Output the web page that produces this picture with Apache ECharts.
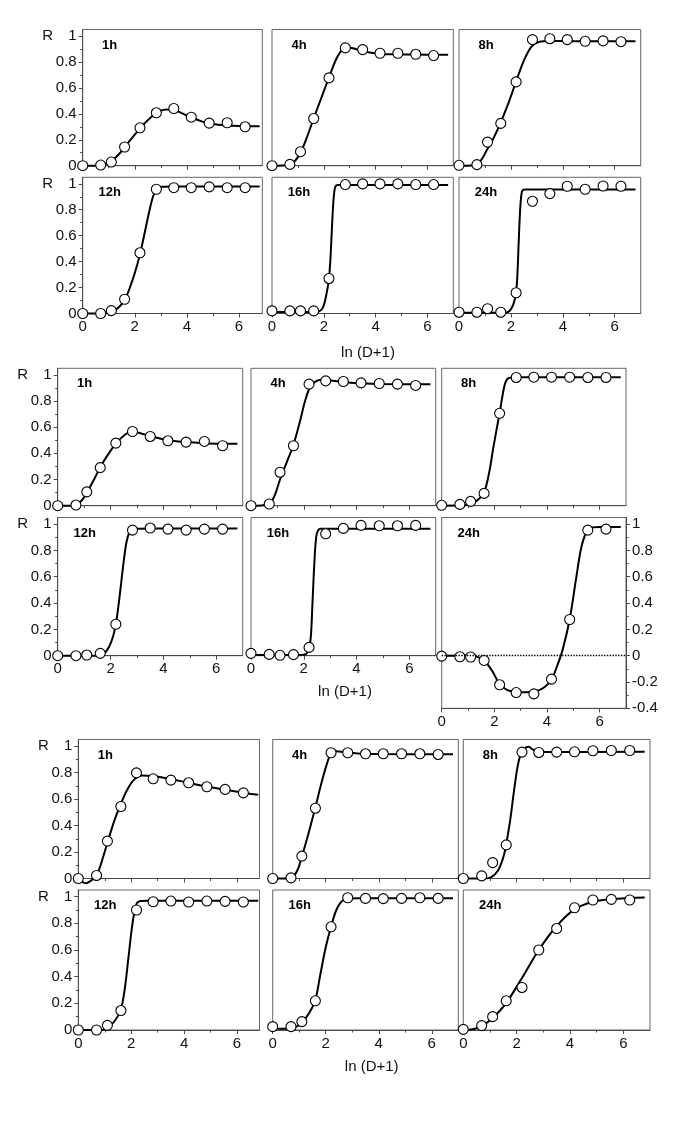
<!DOCTYPE html>
<html><head><meta charset="utf-8">
<script src="https://cdn.jsdelivr.net/npm/echarts@6/dist/echarts.min.js"></script>
<style>html,body{margin:0;padding:0;background:#fff}#c{width:685px;height:1124px}</style>
</head><body><div id="c"></div>
<script>
// x positions: ln(D+1) for D = 0,1,2,4,...,512
const xs = [0, 0.69, 1.10, 1.61, 2.20, 2.83, 3.50, 4.17, 4.86, 5.55, 6.24];
const xTicks = [0, 2, 4, 6];
const xMinor = [1, 3, 5];
const yTicks = [0, 0.2, 0.4, 0.6, 0.8, 1];
const yMinor = [0.1, 0.3, 0.5, 0.7, 0.9];
const yTicks24 = [-0.4, -0.2, 0, 0.2, 0.4, 0.6, 0.8, 1];
const yMinor24 = [-0.3, -0.1, 0.1, 0.3, 0.5, 0.7, 0.9];
const panelNames = ['1h', '4h', '8h', '12h', '16h', '24h'];
const xTitle = 'ln (D+1)';
const yTitle = 'R';

// ---- Group A (top) ----
const A_1h = [0, 0.005, 0.028, 0.144, 0.292, 0.408, 0.441, 0.374, 0.328, 0.331, 0.30];
const A_1h_fit = [[0,0],[0.5,0],[0.8,0.008],[1.1,0.035],[1.4,0.09],[1.7,0.165],[2.0,0.24],[2.3,0.31],[2.6,0.37],[2.9,0.415],[3.2,0.434],[3.5,0.43],[3.8,0.405],[4.2,0.37],[4.6,0.34],[5.0,0.322],[5.5,0.311],[6.0,0.306],[6.8,0.304]];
const A_4h = [0, 0.01, 0.108, 0.364, 0.677, 0.908, 0.895, 0.867, 0.867, 0.859, 0.849];
const A_4h_fit = [[0,0],[0.4,0.002],[0.7,0.012],[0.9,0.04],[1.1,0.1],[1.35,0.22],[1.6,0.36],[1.9,0.52],[2.2,0.68],[2.5,0.83],[2.75,0.9],[3.0,0.91],[3.3,0.895],[3.7,0.875],[4.2,0.862],[5,0.858],[6,0.856],[6.8,0.855]];
const A_8h = [0.003, 0.008, 0.182, 0.326, 0.646, 0.972, 0.979, 0.972, 0.959, 0.962, 0.956];
const A_8h_fit = [[0,0],[0.5,0.002],[0.8,0.03],[1.1,0.13],[1.35,0.22],[1.6,0.33],[1.9,0.48],[2.2,0.65],[2.5,0.81],[2.8,0.92],[3.1,0.955],[3.5,0.962],[4.5,0.96],[6.8,0.96]];
const A_12h = [0, 0, 0.022, 0.11, 0.468, 0.958, 0.97, 0.97, 0.976, 0.97, 0.97];
const A_12h_fit = [[0,0],[0.8,0],[1.1,0.012],[1.4,0.05],[1.65,0.12],[1.9,0.25],[2.1,0.38],[2.25,0.5],[2.4,0.64],[2.55,0.78],[2.7,0.9],[2.85,0.96],[3.05,0.978],[3.5,0.98],[6.8,0.98]];
const A_16h = [0.02, 0.02, 0.02, 0.02, 0.27, 0.994, 0.999, 0.999, 0.999, 0.994, 0.994];
const A_16h_fit = [[0,0.012],[1.5,0.012],[1.8,0.015],[1.95,0.04],[2.05,0.1],[2.15,0.2],[2.2,0.27],[2.25,0.4],[2.3,0.6],[2.35,0.8],[2.4,0.93],[2.45,0.98],[2.55,0.99],[3,0.99],[6.8,0.99]];
const A_24h = [0.01, 0.01, 0.037, 0.01, 0.16, 0.865, 0.924, 0.981, 0.958, 0.983, 0.981];
const A_24h_fit = [[0,0.005],[1.7,0.005],[1.9,0.012],[2.05,0.05],[2.15,0.11],[2.2,0.16],[2.25,0.3],[2.3,0.55],[2.35,0.78],[2.4,0.91],[2.45,0.95],[2.55,0.955],[6.8,0.955]];

// ---- Group B (middle) ----
const B_1h = [0, 0.005, 0.106, 0.291, 0.478, 0.567, 0.529, 0.496, 0.486, 0.491, 0.458];
const B_1h_fit = [[0,0],[0.5,0],[0.75,0.01],[0.95,0.05],[1.1,0.1],[1.35,0.19],[1.6,0.29],[1.9,0.39],[2.2,0.475],[2.5,0.535],[2.8,0.565],[3.1,0.556],[3.5,0.532],[4.17,0.5],[4.86,0.486],[5.55,0.478],[6.24,0.474],[6.8,0.473]];
const B_4h = [0, 0.013, 0.256, 0.458, 0.929, 0.954, 0.949, 0.939, 0.934, 0.929, 0.919];
const B_4h_fit = [[0,0],[0.4,0.002],[0.7,0.015],[0.9,0.08],[1.1,0.2],[1.35,0.33],[1.6,0.46],[1.85,0.64],[2.05,0.8],[2.25,0.91],[2.5,0.955],[2.75,0.962],[3.1,0.955],[3.5,0.946],[4.17,0.935],[5,0.93],[6.8,0.928]];
const B_8h = [0.003, 0.01, 0.033, 0.094, 0.706, 0.98, 0.982, 0.982, 0.982, 0.98, 0.98];
const B_8h_fit = [[0,0],[1.0,0.005],[1.2,0.02],[1.4,0.05],[1.6,0.095],[1.8,0.25],[1.95,0.43],[2.1,0.6],[2.2,0.706],[2.3,0.83],[2.4,0.93],[2.5,0.97],[2.65,0.98],[3,0.982],[6.8,0.982]];
const B_12h = [0, 0, 0.005, 0.018, 0.239, 0.954, 0.97, 0.962, 0.954, 0.962, 0.962];
const B_12h_fit = [[0,0],[1.5,0],[1.75,0.015],[1.95,0.07],[2.1,0.15],[2.2,0.24],[2.3,0.38],[2.4,0.55],[2.5,0.72],[2.6,0.86],[2.7,0.93],[2.83,0.955],[3.0,0.965],[3.5,0.967],[6.8,0.967]];
const B_16h = [0.018, 0.01, 0.003, 0.008, 0.063, 0.926, 0.967, 0.99, 0.987, 0.987, 0.99];
const B_16h_fit = [[0,0.005],[1.9,0.005],[2.1,0.015],[2.2,0.05],[2.27,0.15],[2.33,0.4],[2.4,0.7],[2.47,0.9],[2.55,0.955],[2.65,0.964],[3,0.965],[6.8,0.965]];
const B_24h = [-0.003, -0.008, -0.01, -0.036, -0.221, -0.28, -0.29, -0.178, 0.275, 0.954, 0.962];
const B_24h_fit = [[0,0],[1.0,0],[1.3,-0.005],[1.6,-0.035],[1.9,-0.11],[2.2,-0.215],[2.5,-0.262],[2.83,-0.276],[3.2,-0.278],[3.6,-0.268],[3.9,-0.24],[4.17,-0.18],[4.4,-0.07],[4.6,0.05],[4.86,0.275],[5.1,0.58],[5.3,0.82],[5.5,0.94],[5.7,0.975],[6.0,0.978],[6.8,0.978]];

// ---- Group C (bottom) ----
const C_1h = [0, 0.023, 0.282, 0.544, 0.798, 0.753, 0.743, 0.723, 0.693, 0.673, 0.647];
const C_1h_fit = [[0,0],[0.15,-0.025],[0.3,-0.035],[0.45,-0.02],[0.6,0.005],[0.75,0.05],[0.95,0.17],[1.1,0.27],[1.35,0.43],[1.6,0.56],[1.85,0.67],[2.1,0.745],[2.4,0.778],[2.8,0.775],[3.5,0.752],[4.17,0.722],[4.86,0.695],[5.55,0.67],[6.24,0.648],[6.8,0.633]];
const C_4h = [0, 0.005, 0.169, 0.531, 0.95, 0.95, 0.942, 0.942, 0.942, 0.942, 0.937];
const C_4h_fit = [[0,0],[0.5,0],[0.75,0.01],[0.95,0.07],[1.1,0.165],[1.35,0.34],[1.6,0.53],[1.85,0.73],[2.05,0.87],[2.2,0.945],[2.4,0.962],[2.7,0.955],[3.2,0.945],[4,0.94],[6.8,0.938]];
const C_8h = [0, 0.02, 0.12, 0.254, 0.955, 0.952, 0.955, 0.957, 0.965, 0.967, 0.967];
const C_8h_fit = [[0,0],[0.8,0],[1.05,0.01],[1.3,0.06],[1.5,0.16],[1.6,0.25],[1.75,0.43],[1.9,0.66],[2.05,0.86],[2.2,0.965],[2.35,0.99],[2.45,0.995],[2.6,0.975],[2.8,0.956],[3.2,0.955],[6.8,0.958]];
const C_12h = [0, 0, 0.035, 0.146, 0.9, 0.962, 0.967, 0.96, 0.967, 0.965, 0.96];
const C_12h_fit = [[0,0],[0.9,0],[1.1,0.02],[1.35,0.06],[1.6,0.15],[1.75,0.3],[1.9,0.55],[2.05,0.8],[2.2,0.945],[2.35,0.968],[2.6,0.97],[6.8,0.97]];
const C_16h = [0.025, 0.025, 0.063, 0.219, 0.774, 0.992, 0.987, 0.985, 0.987, 0.992, 0.987];
const C_16h_fit = [[0,0.01],[0.7,0.012],[0.9,0.025],[1.1,0.055],[1.35,0.12],[1.6,0.22],[1.8,0.42],[2.0,0.62],[2.2,0.775],[2.4,0.9],[2.6,0.965],[2.8,0.985],[3.2,0.988],[6.8,0.988]];
const C_24h = [0.005, 0.033, 0.1, 0.219, 0.319, 0.6, 0.761, 0.917, 0.975, 0.98, 0.975];
const C_24h_fit = [[0,0],[0.4,0.008],[0.7,0.03],[1.1,0.09],[1.6,0.2],[2.2,0.39],[2.83,0.6],[3.5,0.78],[4.17,0.905],[4.86,0.962],[5.55,0.982],[6.24,0.99],[6.8,0.993]];

// ---- layout (pixels) ----
const groups = [
  {rows:[{top:29.5,h:136.2},{top:177.3,h:136.2}], cols:[{left:82.7,w:179.6,xmax:6.9},{left:272,w:181.3,xmax:7},{left:459,w:181.7,xmax:7}],
   sets:[[A_1h,A_1h_fit],[A_4h,A_4h_fit],[A_8h,A_8h_fit],[A_12h,A_12h_fit],[A_16h,A_16h_fit],[A_24h,A_24h_fit]], xt:[368,353]},
  {rows:[{top:368.3,h:137.4},{top:517.5,h:138.2}], cols:[{left:57.7,w:185,xmax:7},{left:251,w:184.7,xmax:7},{left:441.7,w:184.3,xmax:7}],
   sets:[[B_1h,B_1h_fit],[B_4h,B_4h_fit],[B_8h,B_8h_fit],[B_12h,B_12h_fit],[B_16h,B_16h_fit],[B_24h,B_24h_fit]], xt:[345,692], special:true},
  {rows:[{top:739.5,h:139},{top:890,h:140}], cols:[{left:78.3,w:181.2,xmax:6.85},{left:272.7,w:185.6,xmax:7},{left:463.3,w:186.7,xmax:7}],
   sets:[[C_1h,C_1h_fit],[C_4h,C_4h_fit],[C_8h,C_8h_fit],[C_12h,C_12h_fit],[C_16h,C_16h_fit],[C_24h,C_24h_fit]], xt:[371.7,1066.7]}
];

const FONT = '"Liberation Sans", Arial, Helvetica, sans-serif';
const AX = '#4a4a4a';
const grids = [], xAxes = [], yAxes = [], series = [], graphic = [];
const fmt = v => String(Math.round(v * 10) / 10);

groups.forEach((g) => {
  for (let r = 0; r < 2; r++) {
    for (let c = 0; c < 3; c++) {
      const k = r * 3 + c;
      const col = g.cols[c], row = g.rows[r];
      const is24 = g.special && r === 1 && c === 2;
      const ymin = is24 ? -0.4 : 0;
      const ymax = 1.05;
      const h = is24 ? row.h * 1.45 / 1.05 : row.h;
      const gi = grids.length;
      grids.push({left: col.left, top: row.top, width: col.w, height: h, show: true,
        borderColor: '#666', borderWidth: 1, backgroundColor: 'transparent'});
      const xBase = {type: 'value', gridIndex: gi, min: 0, max: col.xmax, position: 'bottom',
        splitLine: {show: false}};
      const xi = xAxes.length;
      xAxes.push(Object.assign({}, xBase, {
        axisLine: {show: true, onZero: false, lineStyle: {color: AX, width: 1}},
        axisTick: {show: true, inside: false, length: 4, customValues: xTicks, lineStyle: {color: AX, width: 1}},
        axisLabel: {show: r === 1, customValues: xTicks, margin: 6, fontSize: 15, color: '#111', fontFamily: FONT}
      }));
      xAxes.push(Object.assign({}, xBase, {
        axisLine: {show: false, onZero: false},
        axisTick: {show: true, inside: false, length: 2.5, customValues: xMinor, lineStyle: {color: AX, width: 1}},
        axisLabel: {show: false}
      }));
      const yBase = {type: 'value', gridIndex: gi, min: ymin, max: ymax, splitLine: {show: false}};
      const yi = yAxes.length;
      const side = is24 ? 'right' : (c === 0 ? 'left' : null);
      if (side) {
        const tv = is24 ? yTicks24 : yTicks;
        const mv = is24 ? yMinor24 : yMinor;
        yAxes.push(Object.assign({}, yBase, {position: side,
          axisLine: {show: true, onZero: false, lineStyle: {color: AX, width: 1}},
          axisTick: {show: true, inside: false, length: 4, customValues: tv, lineStyle: {color: AX, width: 1}},
          axisLabel: {show: true, customValues: tv, margin: 6, fontSize: 15, color: '#111', fontFamily: FONT, formatter: fmt}
        }));
        yAxes.push(Object.assign({}, yBase, {position: side,
          axisLine: {show: false, onZero: false},
          axisTick: {show: true, inside: false, length: 2.5, customValues: mv, lineStyle: {color: AX, width: 1}},
          axisLabel: {show: false}
        }));
      } else {
        yAxes.push(Object.assign({}, yBase, {position: 'left',
          axisLine: {show: false, onZero: false}, axisTick: {show: false}, axisLabel: {show: false}}));
      }
      const [pts, fit] = g.sets[k];
      const lineSeries = {type: 'line', xAxisIndex: xi, yAxisIndex: yi, data: fit, smooth: 0.35,
        showSymbol: false, symbol: 'none', clip: false, z: 2, silent: true,
        lineStyle: {color: '#000', width: 2}};
      if (is24) {
        lineSeries.markLine = {silent: true, symbol: 'none', label: {show: false},
          lineStyle: {color: '#000', type: 'dotted', width: 1.4}, data: [{yAxis: 0}]};
      }
      series.push(lineSeries);
      series.push({type: 'scatter', xAxisIndex: xi, yAxisIndex: yi, clip: false, z: 3,
        data: xs.map((x, j) => [x, pts[j]]), symbol: 'circle', symbolSize: 10,
        itemStyle: {color: '#fff', borderColor: '#000', borderWidth: 1.1, opacity: 1}});
      // panel label
      graphic.push({type: 'text', x: col.left + 27, y: row.top + 15.5, z: 10,
        style: {text: panelNames[k], font: 'bold 13px ' + FONT, fill: '#000',
          textAlign: 'center', textVerticalAlign: 'middle', verticalAlign: 'middle'}});
      if (c === 0) {
        graphic.push({type: 'text', x: col.left - 35, y: row.top + 0.05 * row.h / 1.05, z: 10,
          style: {text: yTitle, font: '15px ' + FONT, fill: '#111',
            textAlign: 'center', textVerticalAlign: 'middle', verticalAlign: 'middle'}});
      }
    }
  }
  graphic.push({type: 'text', x: g.xt[0], y: g.xt[1], z: 10,
    style: {text: xTitle, font: '15px ' + FONT, fill: '#111',
      textAlign: 'center', textVerticalAlign: 'middle', verticalAlign: 'middle'}});
});

const chart = echarts.init(document.getElementById('c'), null, {renderer: 'canvas'});
chart.setOption({
  backgroundColor: '#fff',
  animation: false,
  grid: grids, xAxis: xAxes, yAxis: yAxes, series: series, graphic: graphic
});
</script></body></html>
